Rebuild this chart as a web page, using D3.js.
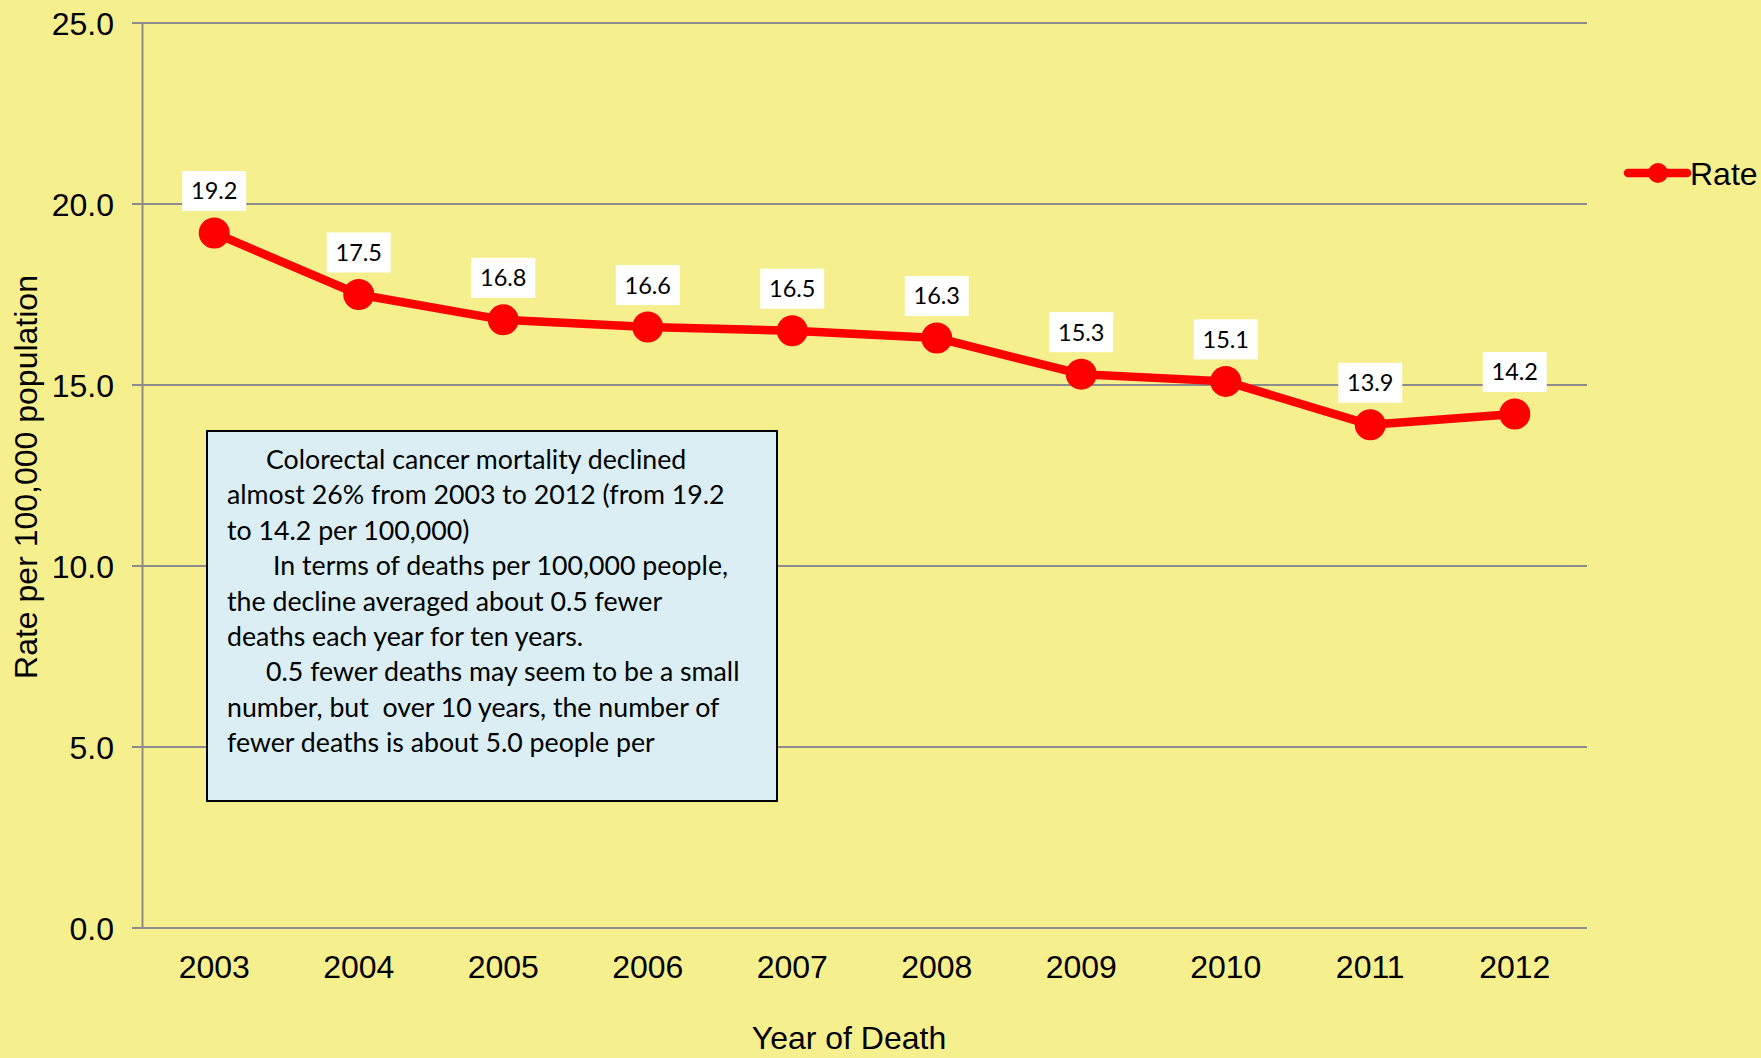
<!DOCTYPE html>
<html>
<head>
<meta charset="utf-8">
<script src="https://cdn.jsdelivr.net/npm/d3@7"></script>
<style>
  html, body { margin: 0; padding: 0; background: #F6EF8E; }
  svg { display: block; }
</style>
</head>
<body>
<svg id="chart" width="1761" height="1058"></svg>
<script>
const years = ["2003","2004","2005","2006","2007","2008","2009","2010","2011","2012"];
const rates = [19.2, 17.5, 16.8, 16.6, 16.5, 16.3, 15.3, 15.1, 13.9, 14.2];
const yTicks = [0, 5, 10, 15, 20, 25];
const seriesName = "Rate";
const xTitle = "Year of Death";
const yTitle = "Rate per 100,000 population";
const noteLines = [
  { indent: 39, text: "Colorectal cancer mortality declined" },
  { indent: 0,  text: "almost 26% from 2003 to 2012 (from 19.2" },
  { indent: 0,  text: "to 14.2 per 100,000)" },
  { indent: 46, text: "In terms of deaths per 100,000 people," },
  { indent: 0,  text: "the decline averaged about 0.5 fewer" },
  { indent: 0,  text: "deaths each year for ten years." },
  { indent: 39, text: "0.5 fewer deaths may seem to be a small" },
  { indent: 0,  text: "number, but  over 10 years, the number of" },
  { indent: 0,  text: "fewer deaths is about 5.0 people per" }
];

(function () {
const svg = d3.select("#chart");
const W = 1761, H = 1058;
const AF = "Liberation Sans, Arial, sans-serif";
svg.append("rect").attr("width", W).attr("height", H).attr("fill", "#F6EF8E");

const pLeft = 142, pRight = 1587, pTop = 23, pBottom = 928;
const x = d3.scaleBand().domain(years).range([pLeft, pRight]).padding(0);
const y = d3.scaleLinear().domain([0, 25]).range([pBottom, pTop]);

// grid lines
svg.append("g").selectAll("line").data(yTicks).join("line")
  .attr("x1", pLeft - 10).attr("x2", pRight)
  .attr("y1", d => y(d)).attr("y2", d => y(d))
  .attr("stroke", "#8C8C8C").attr("stroke-width", 2);

// y axis
const yAxis = svg.append("g").attr("transform", `translate(${pLeft},0)`)
  .call(d3.axisLeft(y).tickValues(yTicks).tickFormat(d3.format(".1f")).tickSize(0).tickPadding(28));
yAxis.select(".domain").attr("stroke", "#8C8C8C").attr("stroke-width", 2);
yAxis.selectAll("text").attr("font-family", AF)
  .attr("font-size", 32).attr("fill", "#000").attr("dy", "0.36em");

// x axis
const xAxis = svg.append("g").attr("transform", `translate(0,${pBottom})`)
  .call(d3.axisBottom(x).tickSize(0).tickPadding(27));
xAxis.select(".domain").remove();
xAxis.selectAll("text").attr("font-family", AF)
  .attr("font-size", 32).attr("fill", "#000").attr("dy", "0.71em");

// axis titles
svg.append("text").attr("x", 849).attr("y", 1049).attr("text-anchor", "middle")
  .attr("font-family", AF).attr("font-size", 32)
  .text(xTitle);
svg.append("text").attr("transform", "translate(37,477) rotate(-90)").attr("text-anchor", "middle")
  .attr("font-family", AF).attr("font-size", 32)
  .text(yTitle);

// line
const cx = d => x(d) + x.bandwidth() / 2;
const line = d3.line().x((d, i) => cx(years[i])).y(d => y(d));
svg.append("path").datum(rates).attr("d", line)
  .attr("fill", "none").attr("stroke", "#FF0000").attr("stroke-width", 8.5)
  .attr("stroke-linejoin", "round");
svg.append("g").selectAll("circle").data(rates).join("circle")
  .attr("cx", (d, i) => cx(years[i])).attr("cy", d => y(d)).attr("r", 15.5)
  .attr("fill", "#FF0000");

// data labels
const lab = svg.append("g").selectAll("g").data(rates).join("g")
  .attr("transform", (d, i) => `translate(${cx(years[i])},${y(d) - 42})`);
lab.append("rect").attr("x", -32).attr("y", -20).attr("width", 64).attr("height", 40).attr("fill", "#FFFFFF");
lab.append("text").attr("text-anchor", "middle").attr("dy", "0.36em")
  .attr("font-family", "Lato, 'Open Sans', sans-serif").attr("font-size", 23.5).attr("fill", "#000")
  .text(d => d.toFixed(1));

// legend
const lg = svg.append("g");
lg.append("line").attr("x1", 1628).attr("x2", 1687).attr("y1", 173).attr("y2", 173)
  .attr("stroke", "#FF0000").attr("stroke-width", 8.5).attr("stroke-linecap", "round");
lg.append("circle").attr("cx", 1658).attr("cy", 173).attr("r", 10).attr("fill", "#FF0000");
lg.append("text").attr("x", 1690).attr("y", 185).attr("font-family", AF)
  .attr("font-size", 32).text(seriesName);

// note box
const nb = svg.append("g");
nb.append("rect").attr("x", 207).attr("y", 431).attr("width", 570).attr("height", 370)
  .attr("fill", "#DAEEF3").attr("stroke", "#000").attr("stroke-width", 2);
const nt = nb.append("g");
const texts = nt.selectAll("text").data(noteLines).join("text")
  .attr("x", d => 227 + d.indent).attr("y", (d, i) => 469 + i * 35.4)
  .attr("font-family", "Lato, 'Open Sans', sans-serif").attr("font-size", 28).attr("fill", "#000")
  .style("white-space", "pre")
  .text(d => d.text);
// fit font size so the second line matches its width in the reference (~498px)
const w2 = texts.nodes()[1].getComputedTextLength();
const fs = 28 * 498 / w2;
texts.attr("font-size", fs);
})();
</script>
</body>
</html>
